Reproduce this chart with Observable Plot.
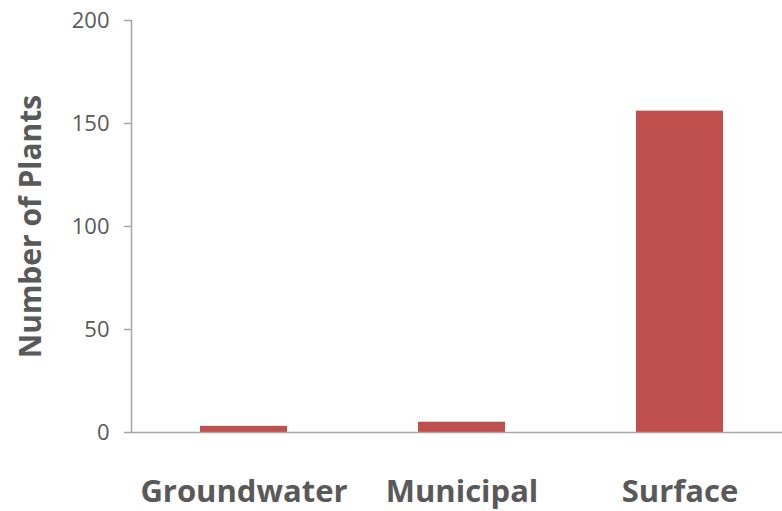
<!DOCTYPE html>
<html>
<head>
<meta charset="utf-8">
<script src="https://cdn.jsdelivr.net/npm/d3@7"></script>
<script src="https://cdn.jsdelivr.net/npm/@observablehq/plot@0.6"></script>
<style>
  html, body { margin: 0; padding: 0; background: #fff; }
  #chart svg { display: block; }
</style>
</head>
<body>
<div id="chart"></div>
<script>
// Treatment plants counted by water source
const sources = ["Groundwater", "Municipal", "Surface"];
const plantCounts = [3, 5, 156];
const yTicks = [0, 50, 100, 150, 200];

const data = sources.map((source, i) => ({source, count: plantCounts[i]}));

const textColor = "#595959";
const axisColor = "#a6a6a6";

const chart = Plot.plot({
  width: 782,
  height: 511,
  marginLeft: 131,
  marginRight: 0,
  marginTop: 20,
  marginBottom: 79,
  style: {fontFamily: "'Open Sans', sans-serif", background: "#fff"},
  x: {domain: sources, range: [134, 790], paddingInner: 0.6, paddingOuter: 0.3},
  y: {domain: [0, 200]},
  marks: [
    Plot.barY(data, {x: "source", y: "count", fill: "#c0504d"}),
    Plot.axisY({
      ticks: yTicks,
      tickSize: 7,
      tickPadding: 15,
      stroke: axisColor,
      strokeWidth: 1.5,
      color: textColor,
      fontSize: 22,
      label: "Number of Plants",
      labelAnchor: "center",
      labelArrow: "none",
      labelOffset: 112
    }),
    // vertical axis line along the left edge of the frame
    Plot.frame({anchor: "left", stroke: axisColor, strokeWidth: 1.5}),
    Plot.ruleY([0], {stroke: axisColor, strokeWidth: 1.5}),
    Plot.axisX({
      tickSize: 0,
      tickPadding: 47,
      color: textColor,
      fontSize: 31,
      fontWeight: "bold",
      label: null
    })
  ]
});

// Bold axis title on the y axis
d3.select(chart).selectAll("g[aria-label='y-axis label'] text")
  .attr("font-size", 30)
  .attr("font-weight", "bold")
  .attr("fill", textColor);

document.getElementById("chart").appendChild(chart);
</script>
</body>
</html>
